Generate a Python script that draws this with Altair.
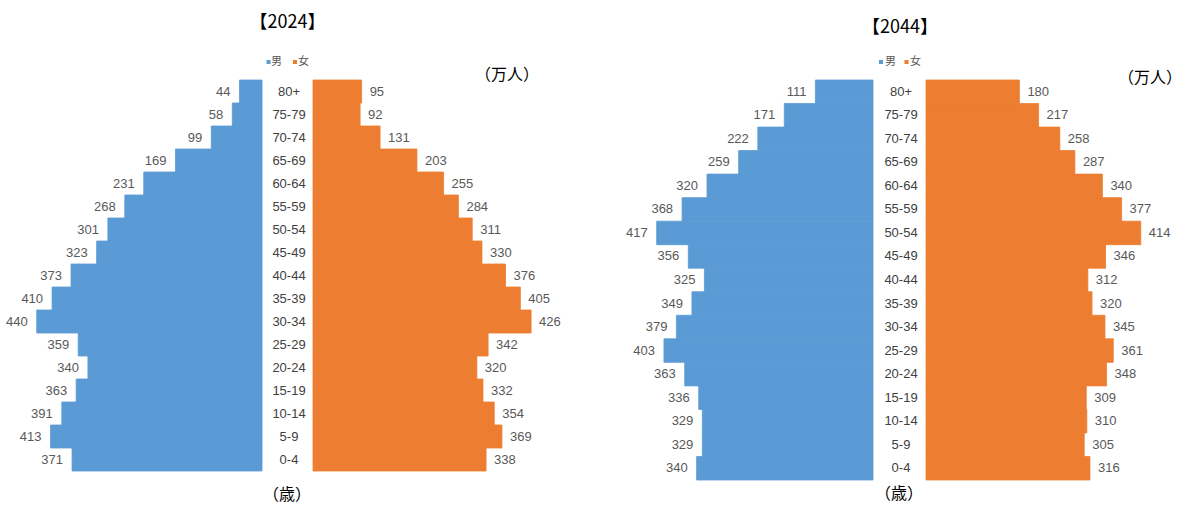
import altair as alt
import pandas as pd

# Age groups, youngest first; the pyramid draws 80+ at the top.
ages = ["0-4", "5-9", "10-14", "15-19", "20-24", "25-29", "30-34", "35-39",
        "40-44", "45-49", "50-54", "55-59", "60-64", "65-69", "70-74", "75-79", "80+"]

# Population by age group, in 10,000 persons (万人).
male_2024 = [371, 413, 391, 363, 340, 359, 440, 410, 373, 323, 301, 268, 231, 169, 99, 58, 44]
female_2024 = [338, 369, 354, 332, 320, 342, 426, 405, 376, 330, 311, 284, 255, 203, 131, 92, 95]
male_2044 = [340, 329, 329, 336, 363, 403, 379, 349, 325, 356, 417, 368, 320, 259, 222, 171, 111]
female_2044 = [316, 305, 310, 309, 348, 361, 345, 320, 312, 346, 414, 377, 340, 287, 258, 217, 180]

BLUE = "#5B9BD5"
ORANGE = "#ED7D31"
VALUE_GRAY = "#595959"
LABEL_GRAY = "#404040"
JP = "Noto Sans CJK JP"
NUM = "Liberation Sans"


def note(text, x, y, size, color="#000000", align="center", font=JP):
    return alt.Chart(pd.DataFrame({"t": [text]})).mark_text(
        font=font, fontSize=size, color=color, align=align, baseline="middle"
    ).encode(text="t:N", x=alt.value(x), y=alt.value(y))


def swatch(color, x, y):
    return alt.Chart(pd.DataFrame({"t": [""]})).mark_square(
        color=color, size=16, opacity=1
    ).encode(x=alt.value(x), y=alt.value(y))


def pyramid(title, male, female, height, side_w, side_max, mid_w, lay):
    df = pd.DataFrame({"age": ages, "male": male, "female": female})
    base = alt.Chart(df)
    y = alt.Y("age:N", sort=ages[::-1], axis=None,
              scale=alt.Scale(paddingInner=0, paddingOuter=0))

    xm = alt.X("male:Q", axis=None,
               scale=alt.Scale(domain=[0, side_max], reverse=True, nice=False))
    male_panel = alt.layer(
        base.mark_bar(color=BLUE, stroke=BLUE, strokeWidth=0.8).encode(x=xm, y=y),
        base.mark_text(align="right", baseline="middle", dx=-9, font=NUM,
                       fontSize=13, color=VALUE_GRAY).encode(x=xm, y=y, text="male:Q"),
    ).properties(width=side_w, height=height)

    mid_panel = alt.layer(
        base.mark_text(align="center", baseline="middle", font=NUM, fontSize=13,
                       color=LABEL_GRAY).encode(y=y, text="age:N", x=alt.value(lay["age_x"])),
        note(title, lay["title_x"], lay["title_y"], 18),
        swatch(BLUE, lay["sq_m"], lay["leg_y"]),
        note("男", lay["txt_m"], lay["leg_y"], 11, VALUE_GRAY, "left"),
        swatch(ORANGE, lay["sq_f"], lay["leg_y"]),
        note("女", lay["txt_f"], lay["leg_y"], 11, VALUE_GRAY, "left"),
        note("（歳）", lay["age_x"] - 2, height + lay["sai_dy"], 16),
    ).properties(width=mid_w, height=height)

    xf = alt.X("female:Q", axis=None,
               scale=alt.Scale(domain=[0, side_max], nice=False))
    female_panel = alt.layer(
        base.mark_bar(color=ORANGE, stroke=ORANGE, strokeWidth=0.8).encode(x=xf, y=y),
        base.mark_text(align="left", baseline="middle", dx=8, font=NUM,
                       fontSize=13, color=VALUE_GRAY).encode(x=xf, y=y, text="female:Q"),
        note("（万人）", lay["unit_x"], lay["unit_y"], 16),
    ).properties(width=side_w, height=height)

    return [male_panel, mid_panel, female_panel]


left = pyramid("【2024】", male_2024, female_2024, 391, 256, 500, 51, {
    "age_x": 27, "title_x": 25.5, "title_y": -57,
    "leg_y": -18, "sq_m": 6.5, "txt_m": 9, "sq_f": 33, "txt_f": 36,
    "sai_dy": 24, "unit_x": 194, "unit_y": -5,
})

right = pyramid("【2044】", male_2044, female_2044, 400, 249, 480, 53, {
    "age_x": 28, "title_x": 27, "title_y": -52,
    "leg_y": -18, "sq_m": 8, "txt_m": 12, "sq_f": 33.5, "txt_f": 37,
    "sai_dy": 14, "unit_x": 224, "unit_y": -2,
})

# Empty column separating the two pyramids.
gap = alt.Chart(pd.DataFrame({"t": [""]})).mark_text().encode(
    text="t:N"
).properties(width=55, height=1)

chart = alt.hconcat(*left, gap, *right, spacing=0, bounds="flush").properties(
    padding={"left": 6, "top": 14, "right": 0, "bottom": 4}
).configure_view(stroke=None)

chart.save("out.html", embed_options={"renderer": "svg", "actions": False})
